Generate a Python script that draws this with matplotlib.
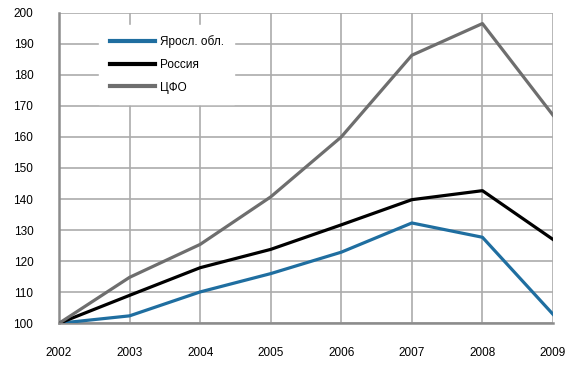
import matplotlib
matplotlib.use("Agg")
import matplotlib.pyplot as plt
from matplotlib import font_manager

years = [2002, 2003, 2004, 2005, 2006, 2007, 2008, 2009]
yaroslavl = [100, 102.4, 110.1, 116.0, 122.9, 132.3, 127.7, 102.9]
russia = [100, 109.0, 117.9, 123.8, 131.7, 139.8, 142.7, 127.0]
cfo = [100, 114.8, 125.4, 140.7, 160.0, 186.3, 196.5, 167.0]
labels = ["Яросл. обл.", "Россия", "ЦФО"]
yticks = list(range(100, 201, 10))

names = {f.name for f in font_manager.fontManager.ttflist}
fam = "Liberation Sans Narrow" if "Liberation Sans Narrow" in names else "Liberation Sans"
plt.rcParams["font.family"] = [fam, "DejaVu Sans"]

fig = plt.figure(figsize=(5.73, 3.68), dpi=100)
ax = fig.add_axes([59/573, 1 - 323.3/368, (553-59)/573, (323.3-12.7)/368])

ax.plot(years, yaroslavl, color="#1f6ea0", lw=2.3, label=labels[0], zorder=3)
ax.plot(years, russia, color="#000000", lw=2.3, label=labels[1], zorder=3)
ax.plot(years, cfo, color="#6e6e6e", lw=2.3, label=labels[2], zorder=3)

ax.set_xlim(2002, 2009)
ax.set_ylim(100, 200)
ax.set_xticks(years)
ax.set_yticks(yticks)
ax.grid(True, color="#ababab", lw=1.2, zorder=0)
ax.set_axisbelow(True)
for s in ["top", "right"]:
    ax.spines[s].set_visible(False)
for s in ["left", "bottom"]:
    ax.spines[s].set_color("#8c8c8c")
    ax.spines[s].set_linewidth(1.8)
ax.tick_params(length=0, labelsize=8.5, colors="#000000")
ax.tick_params(axis="x", pad=17)
ax.tick_params(axis="y", pad=18.5)

leg = ax.legend(loc="upper left", bbox_to_anchor=(0.07, 0.98), frameon=True,
                fontsize=8.5, handlelength=3.8, handletextpad=0.4,
                labelspacing=0.9, borderpad=0.9)
leg.get_frame().set_facecolor("white")
leg.get_frame().set_edgecolor("white")
leg.get_frame().set_alpha(1)
leg.get_frame().set_boxstyle("square", pad=0)
for line in leg.get_lines():
    line.set_linewidth(3)

fig.savefig("out.png", dpi=100)
